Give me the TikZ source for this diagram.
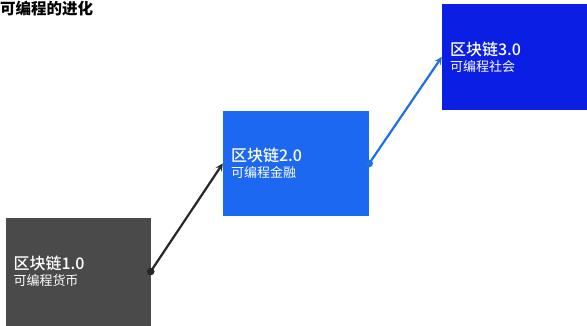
\documentclass[tikz,border=0pt]{standalone}
\usepackage{fontspec}
\newfontfamily\cjk{Noto Sans CJK SC}
\newfontfamily\cjkmed{Noto Sans CJK SC Medium}
\usepackage{tikz}
\usetikzlibrary{arrows,positioning}
\usepackage{xcolor}
\definecolor{pgray}{RGB}{74,74,74}
\definecolor{pblue}{RGB}{28,104,240}
\definecolor{pdeepblue}{RGB}{10,30,228}
\definecolor{parrowblue}{RGB}{32,112,228}
\tikzstyle{arrow} = [line width=2.2pt,->,>=stealth]
\tikzstyle{stagebox} = [rectangle, minimum height=106pt, text width=129pt, inner sep=8pt, align=left, text=white, font=\cjk]

\begin{document}
\begin{tikzpicture}[x=1pt, y=1pt]
\useasboundingbox (0,0) rectangle (587,325);
% Title
\node[anchor=north west, inner sep=0pt, font=\cjk\bfseries\fontsize{15.5}{16}\selectfont] (title) at (0,324.5) {可编程的进化};

% Blockchain 1.0 box
\node[stagebox, fill=pgray, minimum height=108pt] (bc1) at (78,53.5) {
{\cjkmed\fontsize{16}{19}\selectfont 区块链1.0}\\[2.5pt]
{\fontsize{13}{15}\selectfont 可编程货币}
};

% Blockchain 2.0 box
\node[stagebox, fill=pblue, minimum height=105pt, text width=130pt] (bc2) at (296,161.5) {
{\cjkmed\fontsize{16}{19}\selectfont 区块链2.0}\\[2.5pt]
{\fontsize{13}{15}\selectfont 可编程金融}
};

% Blockchain 3.0 box
\node[stagebox, fill=pdeepblue, minimum height=106pt] (bc3) at (514.5,268) {
{\cjkmed\fontsize{16}{19}\selectfont 区块链3.0}\\[2.5pt]
{\fontsize{13}{15}\selectfont 可编程社会}
};

% Arrows
\draw[arrow, color=black!85] (bc1.east) -- (bc2.west);
\fill[black!85] (bc1.east) circle (3.8pt);
\draw[arrow, color=parrowblue] (bc2.east) -- (bc3.west);
\fill[parrowblue] (bc2.east) circle (3.8pt);
\end{tikzpicture}
\end{document}
